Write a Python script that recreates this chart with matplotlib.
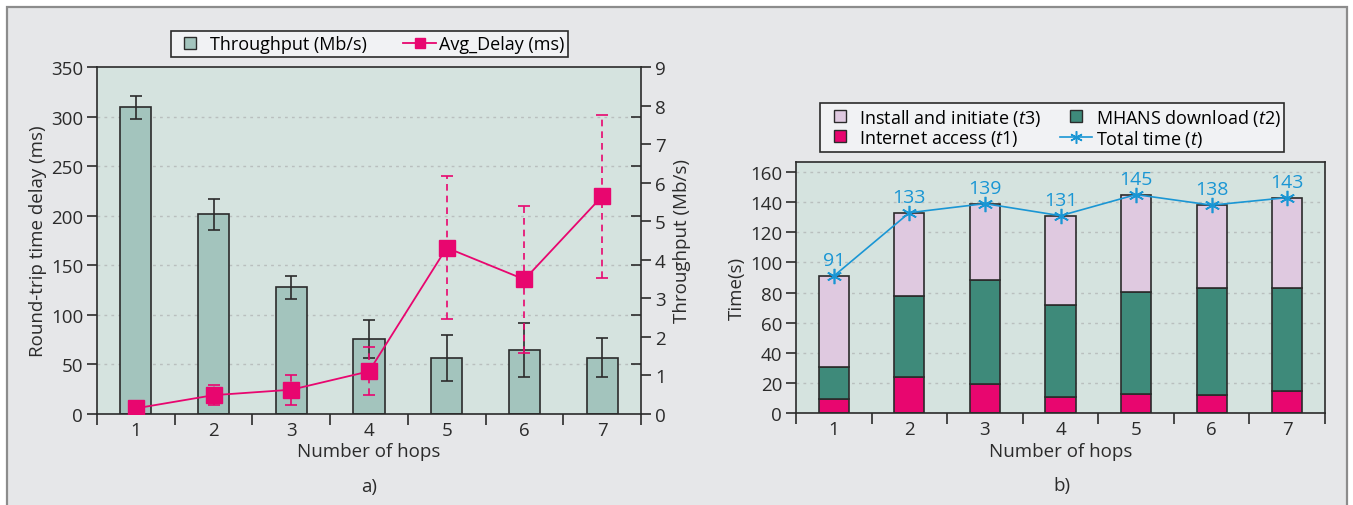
import numpy as np
import matplotlib
matplotlib.use("Agg")
import matplotlib.pyplot as plt
from matplotlib.patches import Rectangle
from matplotlib.ticker import FixedLocator, NullFormatter
from matplotlib.lines import Line2D

# ---------------- data ----------------
hops = [1, 2, 3, 4, 5, 6, 7]
hop_labels = ["1", "2", "3", "4", "5", "6", "7"]

# panel a)
throughput_mbps = [7.95, 5.18, 3.29, 1.95, 1.46, 1.65, 1.46]
throughput_err = [0.31, 0.40, 0.30, 0.50, 0.60, 0.70, 0.50]
delay_ms = [5.7, 19.0, 24.5, 43.0, 167.7, 135.7, 219.6]
delay_err = [0.0, 9.8, 15.0, 24.2, 72.3, 74.3, 82.0]

# panel b)
t1_internet = [9.5, 24.0, 19.5, 10.5, 13.0, 12.0, 15.0]
t2_download = [21.5, 54.0, 69.0, 61.0, 67.5, 71.0, 68.0]
t3_install = [60.0, 55.0, 50.5, 59.5, 64.5, 55.0, 60.0]
total_time = [91, 133, 139, 131, 145, 138, 143]

# ---------------- style ----------------
plt.rcParams["font.family"] = ["Open Sans", "DejaVu Sans"]
plt.rcParams["mathtext.fontset"] = "custom"
plt.rcParams["mathtext.it"] = "Open Sans:italic"
plt.rcParams["mathtext.rm"] = "Open Sans"

FIG_BG = "#e6e7e9"
AX_BG = "#d5e3df"
DARK = "#2b2b2b"
PINK = "#e8066f"
BAR_A = "#a3c4bd"
LAV = "#dfc9e0"
GREEN = "#3e8a7a"
BLUE = "#1a96d4"
GRID = "#b9bfbe"

W, H = 1353, 506
fig = plt.figure(figsize=(W / 100, H / 100), dpi=100, facecolor="white")

# panel frame
fig.patches.append(Rectangle((7 / W, -0.05), (1347 - 7) / W, (H - 8) / H + 0.05,
                             transform=fig.transFigure, facecolor=FIG_BG,
                             edgecolor="#8c8c8c", linewidth=1.6, zorder=-5))


def fx(px):
    return px / W


def fy(py):
    return 1 - py / H


TICK_FS = 13.5
LABEL_FS = 13.5
LEG_FS = 13

# ================= panel a =================
axb = fig.add_axes([fx(97), fy(415), fx(641) - fx(97), fy(68) - fy(415)])
axd = axb.twinx()
axb.set_facecolor(AX_BG)
axb.set_zorder(1)
axd.set_zorder(2)
axd.patch.set_visible(False)

axb.bar(hops, throughput_mbps, width=0.4, color=BAR_A, edgecolor=DARK,
        linewidth=1.2, zorder=2)
axb.errorbar(hops, throughput_mbps, yerr=throughput_err, fmt="none",
             ecolor=DARK, elinewidth=1.2, capsize=4, capthick=1.2, zorder=3)
axb.set_ylim(0, 9)
axb.set_xlim(0.5, 7.5)
axb.yaxis.tick_right()
axb.yaxis.set_label_position("right")
axb.set_yticks(range(0, 10))
axb.tick_params(axis="y", which="major", direction="out", length=7, width=1.2,
                labelsize=TICK_FS, colors=DARK, pad=3)
# minor ticks / grid at the delay axis levels (50 ms steps)
ms_levels = np.arange(50, 351, 50)
axb.yaxis.set_minor_locator(FixedLocator(ms_levels * 9 / 350))
axb.yaxis.set_minor_formatter(NullFormatter())
axb.tick_params(axis="y", which="minor", direction="in", length=7, width=1.2,
                color=DARK)
axb.grid(axis="y", which="minor", linestyle=(0, (2, 3)), color=GRID, linewidth=1,
         zorder=0)
axb.set_axisbelow(True)
axb.set_ylabel("Throughput (Mb/s)", fontsize=LABEL_FS, color=DARK, labelpad=5)

# x axis ticks: boundaries as major ticks, labels at categories
axb.set_xticks(np.arange(0.5, 7.6, 1.0))
axb.set_xticklabels([])
axb.set_xticks(hops, minor=True)
axb.set_xticklabels(hop_labels, minor=True)
axb.tick_params(axis="x", which="major", direction="out", length=8, width=1.2,
                color=DARK)
axb.tick_params(axis="x", which="minor", length=0, labelsize=TICK_FS,
                colors=DARK, pad=5)
for s in axb.spines.values():
    s.set_color(DARK)
    s.set_linewidth(1.2)
axb.set_xlabel("Number of hops", fontsize=LABEL_FS, color=DARK, labelpad=2)

axd.yaxis.tick_left()
axd.yaxis.set_label_position("left")
axd.set_ylim(0, 350)
axd.set_yticks(np.arange(0, 351, 50))
axd.tick_params(axis="y", direction="out", length=7, width=1.2,
                labelsize=TICK_FS, colors=DARK, pad=3)
for s in axd.spines.values():
    s.set_visible(False)
eb = axd.errorbar(hops, delay_ms, yerr=delay_err, fmt="none", ecolor=PINK,
                  elinewidth=1.2, capsize=4, capthick=1.2, zorder=3)
eb[2][0].set_linestyle((0, (4, 3)))
axd.plot(hops, delay_ms, color=PINK, linewidth=1.3, marker="s", markersize=11,
         markerfacecolor=PINK, markeredgecolor=PINK, zorder=4)
axd.set_ylabel("Round-trip time delay (ms)", fontsize=LABEL_FS, color=DARK,
               labelpad=3)

fig.text(fx(369), fy(487), "a)", ha="center", va="center", fontsize=LABEL_FS,
         color=DARK)


def square_handle(color):
    return Line2D([], [], linestyle="none", marker="s", markersize=8,
                  markerfacecolor=color, markeredgecolor=DARK,
                  markeredgewidth=1.0)


leg_a_handles = [
    square_handle(BAR_A),
    Line2D([0], [0], color=PINK, linewidth=1.3, marker="s", markersize=7,
           markerfacecolor=PINK, markeredgecolor=PINK),
]
leg_a = fig.legend(leg_a_handles, ["Throughput (Mb/s)", "Avg_Delay (ms)"],
                   loc="center", bbox_to_anchor=(fx(369.5), fy(45)), ncol=2,
                   fontsize=LEG_FS, frameon=True, fancybox=False,
                   edgecolor=DARK, facecolor="#f1f2f4", framealpha=1,
                   handlelength=1.8, handleheight=0.7, columnspacing=2.0,
                   borderpad=0.2, handletextpad=0.2)
leg_a.get_frame().set_linewidth(1.2)

# ================= panel b =================
axr = fig.add_axes([fx(796), fy(414.3), fx(1325) - fx(796), fy(163) - fy(414.3)])
axr.set_facecolor(AX_BG)
axr.set_zorder(1)
b1 = np.array(t1_internet)
b2 = np.array(t2_download)
b3 = np.array(t3_install)
axr.bar(hops, b1, width=0.4, color=PINK, edgecolor=DARK, linewidth=1.2, zorder=2)
axr.bar(hops, b2, width=0.4, bottom=b1, color=GREEN, edgecolor=DARK,
        linewidth=1.2, zorder=2)
axr.bar(hops, b3, width=0.4, bottom=b1 + b2, color=LAV, edgecolor=DARK,
        linewidth=1.2, zorder=2)
axr.plot(hops, total_time, color=BLUE, linewidth=1.2, marker=(6, 2, 0),
         markersize=11, markeredgewidth=1.2, markeredgecolor=BLUE, zorder=4)
for x, v in zip(hops, total_time):
    axr.annotate(str(v), (x, v), xytext=(0, 5), textcoords="offset points",
                 ha="center", va="bottom", color=BLUE, fontsize=14)
axr.set_xlim(0.5, 7.5)
axr.set_ylim(0, 166.6)
axr.set_yticks(np.arange(0, 161, 20))
axr.tick_params(axis="y", direction="out", length=7, width=1.2,
                labelsize=TICK_FS, colors=DARK, pad=3)
axr.yaxis.set_minor_locator(FixedLocator(np.arange(20, 161, 20)))
axr.yaxis.set_minor_formatter(NullFormatter())
axr.tick_params(axis="y", which="minor", direction="in", length=7, width=1.2,
                color=DARK, left=False, right=True)
axr.grid(axis="y", which="major", linestyle=(0, (2, 3)), color=GRID,
         linewidth=1, zorder=0)
axr.set_axisbelow(True)
axr.set_xticks(np.arange(0.5, 7.6, 1.0))
axr.set_xticklabels([])
axr.set_xticks(hops, minor=True)
axr.set_xticklabels(hop_labels, minor=True)
axr.tick_params(axis="x", which="major", direction="out", length=8, width=1.2,
                color=DARK)
axr.tick_params(axis="x", which="minor", length=0, labelsize=TICK_FS,
                colors=DARK, pad=5)
for s in axr.spines.values():
    s.set_color(DARK)
    s.set_linewidth(1.2)
axr.set_xlabel("Number of hops", fontsize=LABEL_FS, color=DARK, labelpad=3)
axr.set_ylabel("Time(s)", fontsize=LABEL_FS, color=DARK, labelpad=3)

fig.text(fx(1062), fy(486), "b)", ha="center", va="center", fontsize=LABEL_FS,
         color=DARK)

leg_b_handles = [
    square_handle(LAV),
    square_handle(PINK),
    square_handle(GREEN),
    Line2D([0], [0], color=BLUE, linewidth=1.2, marker=(6, 2, 0), markersize=9,
           markeredgecolor=BLUE, markeredgewidth=1.1),
]
leg_b_labels = [r"Install and initiate ($\mathit{t3}$)",
                r"Internet access ($\mathit{t1}$)",
                r"MHANS download ($\mathit{t2}$)",
                r"Total time ($\mathit{t}$)"]
leg_b = fig.legend(leg_b_handles, leg_b_labels, loc="center",
                   bbox_to_anchor=(fx(1052), fy(128.5)), ncol=2,
                   fontsize=LEG_FS, frameon=True, fancybox=False,
                   edgecolor=DARK, facecolor="#f1f2f4", framealpha=1,
                   handlelength=1.8, handleheight=0.7, columnspacing=1.0,
                   borderpad=0.2, handletextpad=0.2, labelspacing=0.0)
leg_b.get_frame().set_linewidth(1.2)

fig.savefig("out.png", dpi=100, facecolor="white")
